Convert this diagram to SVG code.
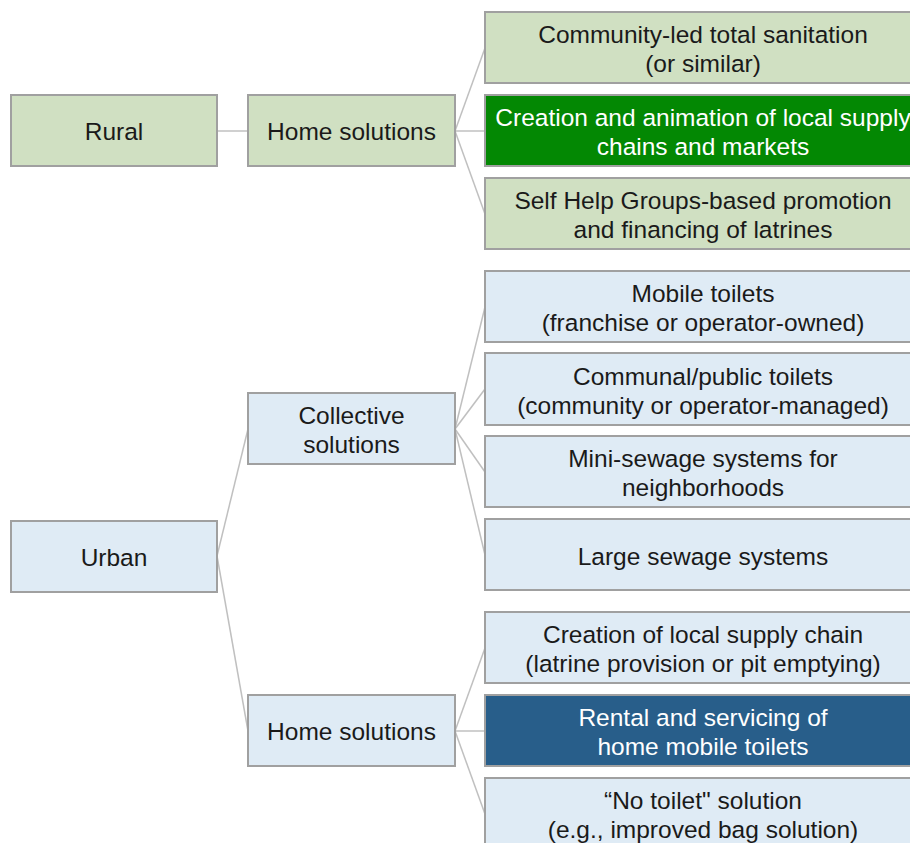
<svg xmlns="http://www.w3.org/2000/svg" width="910" height="843" viewBox="0 0 910 843">
<style>
.g rect{fill:#d0e0c2;stroke:#a0a0a0;stroke-width:2}
.b rect{fill:#dfebf5;stroke:#a0a0a0;stroke-width:2}
.dg rect{fill:#038803;stroke:#a0a0a0;stroke-width:2}
.db rect{fill:#285e8a;stroke:#a0a0a0;stroke-width:2}
text{font-family:"Liberation Sans",Arial,sans-serif;font-size:24.5px;fill:#1a1a1a;text-anchor:middle;dominant-baseline:central}
.dg text,.db text{fill:#ffffff}
#connectors line{stroke:#c0c0c0;stroke-width:1.5}
</style>
<rect width="910" height="843" fill="#ffffff"/>
<g id="connectors">
<line x1="217" y1="131" x2="248" y2="131"/>
<line x1="455" y1="131" x2="485" y2="48"/>
<line x1="455" y1="131" x2="485" y2="131"/>
<line x1="455" y1="131" x2="485" y2="214"/>
<line x1="217" y1="556" x2="248" y2="429"/>
<line x1="217" y1="556" x2="248" y2="731"/>
<line x1="455" y1="429" x2="485" y2="307"/>
<line x1="455" y1="429" x2="485" y2="389"/>
<line x1="455" y1="429" x2="485" y2="472"/>
<line x1="455" y1="429" x2="485" y2="555"/>
<line x1="455" y1="731" x2="485" y2="648"/>
<line x1="455" y1="731" x2="485" y2="731"/>
<line x1="455" y1="731" x2="485" y2="814"/>
</g>
<g id="rural" class="g"><rect x="11" y="95" width="206" height="71"/><text x="114" y="131">Rural</text></g>
<g id="rural-home" class="g"><rect x="248" y="95" width="207" height="71"/><text x="351.5" y="131">Home solutions</text></g>
<g id="cltsan" class="g"><rect x="485" y="12" width="440" height="71"/><text x="703" y="34">Community-led total sanitation</text><text x="703" y="63">(or similar)</text></g>
<g id="supply" class="dg"><rect x="485" y="95" width="440" height="71"/><text x="703" y="117">Creation and animation of local supply</text><text x="703" y="146">chains and markets</text></g>
<g id="shg" class="g"><rect x="485" y="178" width="440" height="71"/><text x="703" y="200">Self Help Groups-based promotion</text><text x="703" y="229">and financing of latrines</text></g>
<g id="urban" class="b"><rect x="11" y="521" width="206" height="71"/><text x="114" y="557">Urban</text></g>
<g id="collective" class="b"><rect x="248" y="393" width="207" height="71"/><text x="351.5" y="415">Collective</text><text x="351.5" y="444">solutions</text></g>
<g id="urban-home" class="b"><rect x="248" y="695" width="207" height="71"/><text x="351.5" y="731">Home solutions</text></g>
<g id="mobile" class="b"><rect x="485" y="271" width="440" height="71"/><text x="703" y="293">Mobile toilets</text><text x="703" y="322">(franchise or operator-owned)</text></g>
<g id="communal" class="b"><rect x="485" y="353" width="440" height="72"/><text x="703" y="376">Communal/public toilets</text><text x="703" y="405">(community or operator-managed)</text></g>
<g id="mini" class="b"><rect x="485" y="436" width="440" height="71"/><text x="703" y="458">Mini-sewage systems for</text><text x="703" y="487">neighborhoods</text></g>
<g id="large" class="b"><rect x="485" y="519" width="440" height="71"/><text x="703" y="556">Large sewage systems</text></g>
<g id="localchain" class="b"><rect x="485" y="612" width="440" height="71"/><text x="703" y="634">Creation of local supply chain</text><text x="703" y="663">(latrine provision or pit emptying)</text></g>
<g id="rental" class="db"><rect x="485" y="695" width="440" height="71"/><text x="703" y="717">Rental and servicing of</text><text x="703" y="746">home mobile toilets</text></g>
<g id="notoilet" class="b"><rect x="485" y="778" width="440" height="71"/><text x="703" y="800">“No toilet" solution</text><text x="703" y="829">(e.g., improved bag solution)</text></g>
</svg>
